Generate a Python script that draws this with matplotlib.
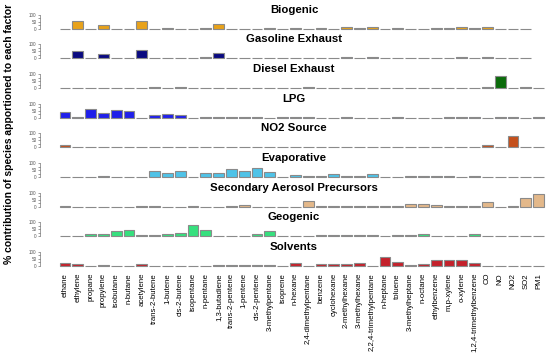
import matplotlib
matplotlib.use("Agg")
import matplotlib.pyplot as plt
import numpy as np

plt.rcParams["font.family"] = ["Liberation Sans", "DejaVu Sans"]

species = ["ethane", "ethylene", "propane", "propylene", "isobutane", "n-butane",
           "acetylene", "trans-2-butene", "1-butene", "cis-2-butene", "isopentane",
           "n-pentane", "1,3-butadiene", "trans-2-pentene", "1-pentene", "cis-2-pentene",
           "3-methylpentane", "isoprene", "n-hexane", "2,4-dimethylpentane", "benzene",
           "cyclohexane", "2-methylhexane", "3-methylhexane", "2,2,4-trimethylpentane",
           "n-heptane", "toluene", "3-methylheptane", "n-octane", "ethylbenzene",
           "m,p-xylene", "o-xylene", "1,2,4-trimethylbenzene", "CO", "NO", "NO2", "SO2", "PM1"]

factors = ["Biogenic", "Gasoline Exhaust", "Diesel Exhaust", "LPG", "NO2 Source",
           "Evaporative", "Secondary Aerosol Precursors", "Geogenic", "Solvents"]

colors = ["#E8A21A", "#0A0A80", "#0B6B0B", "#2020EA", "#C4501C",
          "#4FC3E8", "#E3B88A", "#36E07E", "#C4212B"]

nan = np.nan
biogenic = [1, 58, 1, 27, 0, 0, 58, 0, 3, 0, 0, 8, 36, 0, 0, 0, 3, 0, 3, 0, 3, 0,
            12, 4, 12, 1, 5, 0, 1, 3, 7, 9, 7, 12, 1, 0, 0, nan]
gasoline = [1, 55, 1, 28, 0, 0, 60, 0, 3, 0, 0, 8, 36, 0, 0, 2, 2, 0, 2, 0, 2, 0,
            10, 5, 12, 1, 5, 0, 1, 3, 6, 9, 6, 11, 1, 0, 0, nan]
diesel = [0, 0, 0, 2, 0, 2, 0, 6, 1, 5, 0, 0, 1, 2, 0, 3, 0, 0, 0, 5, 0, 0,
          2, 3, 2, 0, 0, 3, 3, 3, 1, 1, 3, 8, 83, 1, 8, 0]
lpg = [40, 8, 64, 31, 52, 50, 0, 22, 29, 21, 0, 3, 2, 3, 2, 2, 0, 4, 2, 2, 0, 0,
       2, 0, 0, 0, 2, 0, 0, 0, 2, 2, 2, 0, 2, 2, 0, 2]
no2_source = [15, 0, 0, 0, 2, 0, 0, 0, 3, 0, 4, 0, 3, 2, 4, 0, 0, 0, 3, 3, 3, 3,
              2, 0, 1, 2, 0, 2, 4, 0, 2, 0, 1, 18, 1, 79, 4, 0]
evaporative = [0, 1, 1, 4, 0, 0, 0, 40, 27, 43, 0, 27, 30, 54, 45, 61, 38, 0, 12, 10,
               10, 24, 10, 10, 20, 0, 3, 7, 9, 5, 5, 1, 5, 0, 0, 0, 0, 0]
secondary = [8, 0, 0, 0, 0, 0, 2, 4, 0, 0, 2, 0, 0, 2, 12, 0, 0, 0, 1, 38, 8, 2,
             2, 3, 7, 7, 5, 22, 20, 13, 3, 3, 3, 33, 0, 2, 60, 93]
geogenic = [0, 3, 20, 20, 36, 43, 12, 11, 16, 23, 80, 48, 0, 2, 2, 17, 38, 5, 5, 0,
            10, 10, 10, 10, 10, 0, 8, 7, 15, 3, 3, 5, 17, 0, 1, 1, 1, 0]
solvents = [24, 12, 2, 4, 0, 0, 14, 0, 0, 0, 0, 0, 10, 6, 6, 5, 6, 0, 24, 2, 12, 16,
            16, 20, 2, 67, 29, 8, 12, 40, 45, 40, 19, 0, 0, 0, 0, 0]

series = [biogenic, gasoline, diesel, lpg, no2_source, evaporative, secondary,
          geogenic, solvents]

W, H = 550, 361
fig = plt.figure(figsize=(W / 100, H / 100), dpi=100)

x = np.arange(len(species))
left_px, right_px = 40, 548
first_px, pitch_px = 65, 12.8
x0 = -(first_px - left_px) / pitch_px
x1 = x0 + (right_px - left_px) / pitch_px

for i, (name, vals, col) in enumerate(zip(factors, series, colors)):
    base_px = 28.7 + 29.66 * i
    ax = fig.add_axes([left_px / W, 1 - base_px / H, (right_px - left_px) / W, 14 / H])
    vals = np.array(vals, dtype=float)
    ok = np.isfinite(vals)
    ax.bar(x[ok], vals[ok], width=0.85, color=col, edgecolor="#8a8a8a",
           linewidth=0.8, clip_on=False)
    ax.set_xlim(x0, x1)
    ax.set_ylim(0, 100)
    for s in ["top", "right", "bottom"]:
        ax.spines[s].set_visible(False)
    ax.spines["left"].set_linewidth(0.4)
    ax.spines["left"].set_color("#555555")
    ax.set_yticks([0, 50, 100])
    ax.set_yticklabels(["0", "50", "100"], fontsize=3.3)
    ax.set_yticks([25, 75], minor=True)
    ax.tick_params(axis="y", which="both", length=1.5, width=0.4, pad=1,
                   colors="#555555")
    ax.set_facecolor("none")
    fig.text(294 / W, 1 - (base_px - 19) / H, name, ha="center", va="center",
             fontsize=8.2, fontweight="bold")
    if i == len(factors) - 1:
        ax.set_xticks(x)
        ax.set_xticklabels(species, rotation=90, fontsize=5.6)
        ax.tick_params(axis="x", length=0, pad=5)
    else:
        ax.set_xticks([])

fig.text(9 / W, 1 - 134 / H, "% contribution of species apportioned to each factor",
         rotation=90, ha="center", va="center", fontsize=7.5, fontweight="bold")

fig.savefig("out.png", dpi=100)
